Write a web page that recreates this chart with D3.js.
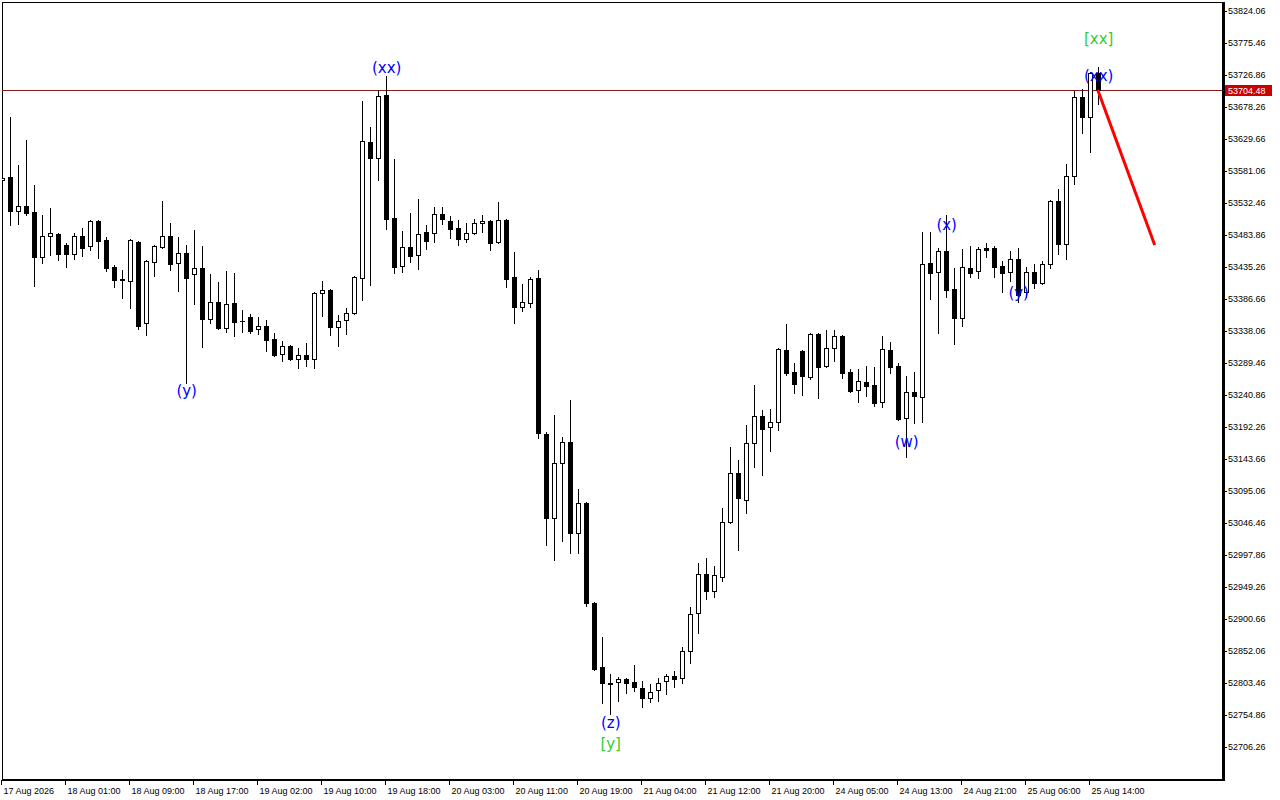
<!DOCTYPE html>
<html><head><meta charset="utf-8">
<script src="https://cdn.jsdelivr.net/npm/d3@7"></script>
<style>html,body{margin:0;padding:0;background:#fff;}svg{display:block;}</style>
</head><body>
<svg id="chart" width="1280" height="800"></svg>
<script>
const openP = [53567.4,53572.0,53520.3,53527.9,53518.8,53450.5,53482.3,53485.4,53468.7,53455.0,
53482.3,53467.2,53505.1,53476.3,53435.3,53416.3,53414.0,53473.2,53350.2,53442.9,
53465.6,53482.3,53441.3,53456.5,53424.6,53433.7,53356.3,53382.1,53342.6,53380.6,
53354.0,53359.3,53341.1,53345.7,53325.9,53303.1,53315.3,53295.5,53301.6,53295.5,
53395.8,53400.3,53344.1,53354.8,53365.4,53418.6,53625.1,53600.8,53696.5,53509.7,
53436.8,53465.6,53453.5,53488.4,53486.9,53515.8,53505.1,53494.5,53477.8,53486.9,
53502.1,53505.1,53473.2,53506.6,53420.1,53374.5,53380.6,53418.6,53181.6,53054.1,
53137.6,53169.5,53031.3,53076.8,52925.0,52827.8,52804.2,52805.0,52809.5,52805.0,
52795.9,52780.7,52792.8,52806.5,52814.1,52811.1,52852.1,52909.8,52969.0,52943.2,
52964.5,53048.0,53122.4,53081.4,53168.0,53209.0,53192.3,53199.9,53309.2,53275.8,
53307.7,53268.2,53333.5,53284.9,53312.2,53330.5,53275.8,53248.5,53260.6,53256.1,
53230.2,53309.2,53284.9,53205.9,53245.4,53237.8,53441.3,53427.7,53459.6,53401.9,
53357.8,53433.7,53429.2,53463.4,53464.1,53436.8,53427.7,53447.4,53397.3,53427.7,
53411.0,53439.8,53535.5,53470.2,53573.5,53693.5,53663.1,53729.9];
const highP = [53572.0,53663.1,53590.2,53628.1,53559.8,53514.2,53524.9,53486.9,53471.7,53486.9,
53494.5,53506.6,53506.6,53480.8,53438.3,53430.7,53477.8,53474.8,53445.9,53468.7,
53535.5,53502.1,53480.8,53468.7,53491.5,53467.2,53424.6,53412.5,53429.2,53426.2,
53370.0,53363.9,53359.3,53354.8,53335.0,53322.9,53316.8,53312.2,53319.8,53397.3,
53414.0,53401.9,53362.4,53373.0,53421.6,53687.4,53647.9,53704.1,53725.3,53599.3,
53489.9,53517.3,53538.5,53499.1,53526.4,53526.4,53512.7,53506.6,53502.1,53508.2,
53514.2,53506.6,53534.0,53508.2,53458.0,53409.4,53420.1,53430.7,53184.7,53210.5,
53177.1,53233.3,53098.1,53078.3,52926.5,52873.3,52817.1,52812.6,52811.0,52830.8,
52806.5,52801.9,52811.0,52817.1,52821.7,52858.1,52918.9,52985.7,52993.3,52981.2,
53069.2,53161.9,53142.1,53195.3,53256.1,53218.1,53219.6,53312.2,53348.7,53289.5,
53309.2,53335.0,53335.0,53339.6,53339.6,53332.0,53280.4,53280.4,53284.9,53283.4,
53330.5,53321.4,53289.5,53269.7,53275.8,53488.4,53488.4,53464.1,53514.2,53433.7,
53462.6,53467.2,53465.6,53471.7,53467.2,53444.4,53459.6,53464.1,53435.3,53439.8,
53444.4,53537.0,53553.7,53591.7,53702.6,53705.6,53731.4,53739.0];
const lowP = [53565.9,53499.1,53500.6,53514.2,53406.4,53441.3,53453.5,53445.9,53435.3,53447.4,
53452.0,53461.1,53448.9,53429.2,53404.9,53388.2,53373.0,53341.1,53332.0,53421.6,
53464.1,53430.7,53398.8,53259.1,53379.1,53313.8,53350.2,53341.1,53336.5,53330.5,
53336.5,53335.0,53333.5,53307.7,53300.1,53292.5,53294.0,53281.9,53284.9,53281.9,
53360.8,53332.0,53315.3,53333.5,53363.9,53385.1,53407.9,53567.4,53493.0,53426.2,
53427.7,53442.9,53432.2,53462.6,53473.2,53500.6,53479.3,53468.7,53473.2,53485.4,
53488.4,53461.1,53471.7,53404.9,53350.2,53368.4,53374.5,53175.6,53013.1,52990.3,
53019.1,53000.9,53000.9,52920.4,52823.2,52773.1,52756.4,52776.1,52788.3,52791.3,
52767.0,52774.6,52776.1,52786.8,52797.4,52803.5,52833.8,52879.4,52931.0,52934.1,
52958.4,53046.5,53005.5,53061.7,53131.5,53119.4,53155.8,53187.7,53271.2,53243.9,
53240.9,53265.2,53236.3,53283.4,53292.5,53266.7,53245.4,53230.2,53239.3,53224.2,
53222.6,53274.3,53202.9,53146.7,53198.3,53199.9,53386.7,53335.0,53389.7,53318.3,
53345.7,53420.1,53418.6,53450.5,53420.1,53397.3,53414.0,53382.1,53389.7,53403.4,
53409.4,53433.7,53455.0,53447.4,53561.3,53638.8,53609.9,53682.8];
const closeP = [53570.4,53520.3,53527.9,53517.3,53450.5,53482.3,53486.9,53455.0,53455.0,53482.3,
53464.1,53505.1,53474.8,53433.7,53415.5,53414.8,53476.3,53345.7,53444.4,53467.2,
53482.3,53439.8,53456.5,53418.6,53433.7,53356.3,53382.1,53342.6,53379.1,53351.7,
53352.5,53338.1,53345.7,53324.4,53301.6,53315.3,53295.5,53301.6,53295.5,53395.8,
53400.3,53344.1,53353.3,53365.4,53420.1,53626.6,53600.8,53695.0,53508.2,53435.3,
53465.6,53452.0,53485.4,53474.8,53515.8,53508.2,53493.0,53477.8,53486.9,53502.1,
53505.1,53471.7,53506.6,53417.0,53374.5,53382.1,53417.0,53183.2,53054.1,53137.6,
53169.5,53031.3,53076.8,52925.0,52824.7,52803.5,52802.7,52809.5,52803.5,52797.4,
52780.7,52789.8,52803.5,52814.1,52809.5,52852.1,52908.3,52969.0,52943.2,52967.5,
53048.0,53122.4,53084.4,53168.0,53209.0,53189.2,53199.9,53310.7,53274.3,53257.6,
53269.7,53333.5,53283.4,53312.2,53330.5,53274.3,53246.9,53262.1,53254.5,53228.7,
53310.7,53283.4,53204.4,53245.4,53239.3,53439.8,53426.2,53459.6,53400.3,53357.8,
53435.3,53426.2,53462.6,53461.8,53435.3,53426.2,53447.4,53392.7,53427.7,53411.0,
53439.8,53535.5,53470.2,53573.5,53693.5,53663.1,53729.9,53704.48];

const timeLabels = ["17 Aug 2026","18 Aug 01:00","18 Aug 09:00","18 Aug 17:00","19 Aug 02:00","19 Aug 10:00",
"19 Aug 18:00","20 Aug 03:00","20 Aug 11:00","20 Aug 19:00","21 Aug 04:00","21 Aug 12:00","21 Aug 20:00",
"24 Aug 05:00","24 Aug 13:00","24 Aug 21:00","25 Aug 06:00","25 Aug 14:00"];
const timeLabelBars = [0,8,16,24,32,40,48,56,64,72,80,88,96,104,112,120,128,136];

const priceTicks = [53824.06,53775.46,53726.86,53678.26,53629.66,53581.06,53532.46,53483.86,53435.26,
53386.66,53338.06,53289.46,53240.86,53192.26,53143.66,53095.06,53046.46,52997.86,52949.26,52900.66,
52852.06,52803.46,52754.86,52706.26];

const lastPrice = 53704.48;

const waveText  = ["(y)","(xx)","(z)","[y]","(w)","(x)","(y)","(xx)","[xx]"];
const waveBar   = [23,48,76,76,113,118,127,137,137];
const wavePrice = [53246.9,53737.5,52742.7,52710.8,53169.5,53499.1,53395.8,53725.3,53781.5];
const waveColor = ["#0000ff","#0000ff","#0000ff","#32cd32","#0000ff","#0000ff","#0000ff","#0000ff","#32cd32"];

const projBar   = [137, 144];
const projPrice = [53704.48, 53468.7];

const L = 2, R = 1222, T = 2, B = 779;
const svg = d3.select("#chart");
const x = d3.scaleLinear().domain([0, 137]).range([2.7, 1098.7]);
const y = d3.scaleLinear().domain([52657.66, 53837.73]).range([B, T]);

svg.append("defs").append("clipPath").attr("id","clip")
  .append("rect").attr("x",L).attr("y",T).attr("width",R-L).attr("height",B-T);

// frame
svg.append("rect").attr("x",L+0.5).attr("y",T+0.5).attr("width",R-L).attr("height",B-T)
  .attr("fill","none").attr("stroke","#000").attr("stroke-width",1).attr("shape-rendering","crispEdges");
svg.append("line").attr("x1",R+1).attr("x2",R+1).attr("y1",T).attr("y2",B+2)
  .attr("stroke","#000").attr("stroke-width",3).attr("shape-rendering","crispEdges");
svg.append("line").attr("x1",L).attr("x2",R+2).attr("y1",B+0.5).attr("y2",B+0.5)
  .attr("stroke","#000").attr("stroke-width",2).attr("shape-rendering","crispEdges");

const plot = svg.append("g").attr("clip-path","url(#clip)");

// last price line
plot.append("line").attr("x1",L).attr("x2",R).attr("y1",Math.round(y(lastPrice))+0.5).attr("y2",Math.round(y(lastPrice))+0.5)
  .attr("stroke","#8b1a1a").attr("stroke-width",1).attr("shape-rendering","crispEdges");

const idx = d3.range(openP.length);
const cg = plot.append("g").attr("shape-rendering","crispEdges");
idx.forEach(i => {
  const c = Math.floor(x(i));
  const o = openP[i], h = highP[i], l = lowP[i], cl = closeP[i];
  const up = cl >= o;
  cg.append("line").attr("x1",c+0.5).attr("x2",c+0.5)
    .attr("y1",Math.round(y(h))).attr("y2",Math.round(y(l))+1)
    .attr("stroke","#000").attr("stroke-width",1);
  const yt = Math.round(y(Math.max(o,cl))), yb = Math.round(y(Math.min(o,cl)));
  const hh = Math.max(yb-yt, 0);
  if (hh === 0) {
    cg.append("line").attr("x1",c-2).attr("x2",c+3).attr("y1",yt+0.5).attr("y2",yt+0.5)
      .attr("stroke","#000").attr("stroke-width",1);
  } else {
    cg.append("rect").attr("x",c-1.5).attr("y",yt+0.5).attr("width",4).attr("height",hh)
      .attr("fill", up ? "#fff" : "#000").attr("stroke","#000").attr("stroke-width",1);
  }
});

// projection line
plot.append("line")
  .attr("x1",x(projBar[0])-1).attr("y1",y(projPrice[0]))
  .attr("x2",x(projBar[1])).attr("y2",y(projPrice[1]))
  .attr("stroke","#ff0000").attr("stroke-width",3);

// wave labels
waveText.forEach((t,i) => {
  svg.append("text").attr("x",x(waveBar[i])).attr("y",y(wavePrice[i]))
    .attr("text-anchor","middle").attr("dominant-baseline","central")
    .attr("font-family","DejaVu Sans, sans-serif").attr("font-size",15)
    .attr("fill",waveColor[i]).text(t);
});

// price axis
const pa = svg.append("g");
priceTicks.forEach(p => {
  const yy = Math.round(y(p));
  pa.append("line").attr("x1",R+1).attr("x2",R+5).attr("y1",yy+0.5).attr("y2",yy+0.5)
    .attr("stroke","#000").attr("shape-rendering","crispEdges");
  pa.append("text").attr("x",R+6).attr("y",yy).attr("dominant-baseline","central")
    .attr("font-family","Liberation Sans, Arial, sans-serif").attr("font-size",9)
    .attr("fill","#000").text(p.toFixed(2));
});
const ly = Math.round(y(lastPrice));
pa.append("rect").attr("x",R+3).attr("y",ly-5).attr("width",47).attr("height",11).attr("fill","#c80000");
pa.append("text").attr("x",R+6).attr("y",ly+0.5).attr("dominant-baseline","central")
  .attr("font-family","Liberation Sans, Arial, sans-serif").attr("font-size",9)
  .attr("fill","#fff").text(lastPrice.toFixed(2));

// time axis
const ta = svg.append("g");
timeLabels.forEach((t,k) => {
  const xx = Math.floor(x(timeLabelBars[k])) - 0.5;
  ta.append("line").attr("x1",xx).attr("x2",xx).attr("y1",B+1).attr("y2",B+6)
    .attr("stroke","#000").attr("shape-rendering","crispEdges");
  ta.append("text").attr("x",xx+2).attr("y",B+15)
    .attr("font-family","Liberation Sans, Arial, sans-serif").attr("font-size",9)
    .attr("fill","#000").text(t);
});
</script>
</body></html>
